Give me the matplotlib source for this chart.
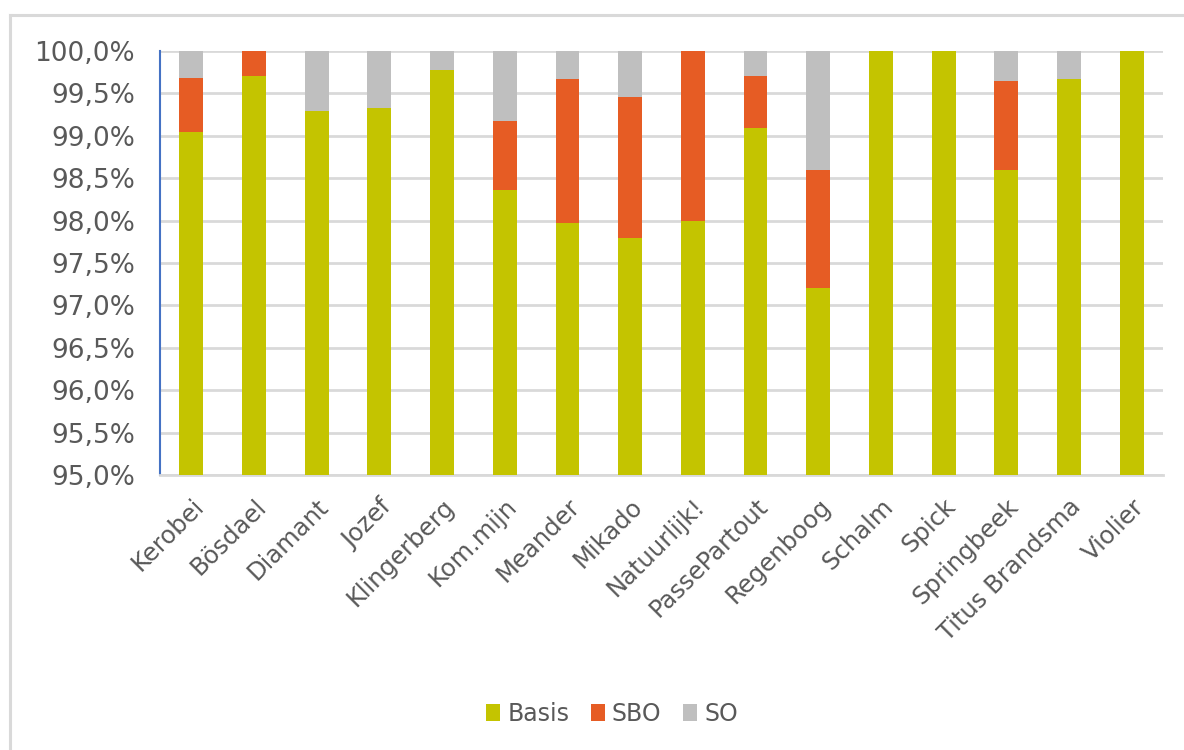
import matplotlib

matplotlib.use("Agg")

import matplotlib.pyplot as plt
from matplotlib.lines import Line2D
from matplotlib.ticker import FuncFormatter

schools = [
    "Kerobei", "Bösdael", "Diamant", "Jozef", "Klingerberg", "Kom.mijn",
    "Meander", "Mikado", "Natuurlijk!", "PassePartout", "Regenboog",
    "Schalm", "Spick", "Springbeek", "Titus Brandsma", "Violier",
]
basis = [99.05, 99.70, 99.29, 99.33, 99.78, 98.36, 97.97, 97.80,
         97.99, 99.09, 97.20, 100.0, 100.0, 98.60, 99.67, 100.0]
sbo = [0.63, 0.30, 0.0, 0.0, 0.0, 0.82, 1.70, 1.66,
       2.01, 0.61, 1.40, 0.0, 0.0, 1.05, 0.0, 0.0]
so = [0.32, 0.0, 0.71, 0.67, 0.22, 0.82, 0.33, 0.54,
      0.0, 0.30, 1.40, 0.0, 0.0, 0.35, 0.33, 0.0]

COLORS = {"Basis": "#c4c400", "SBO": "#e65c24", "SO": "#bfbfbf"}
TEXT = "#595959"

fig = plt.figure(figsize=(11.84, 7.5), dpi=100)
ax = fig.add_axes([160 / 1184, 1 - 475 / 750, 1003 / 1184, 424 / 750])

# chart-area frame: only the top and left edges are inside the picture
frame_x = 9.5 / 1184
frame_y = 1 - 14.5 / 750
fig.add_artist(Line2D([frame_x, 1.0], [frame_y, frame_y], transform=fig.transFigure,
                      color="#d9d9d9", linewidth=2.2))
fig.add_artist(Line2D([frame_x, frame_x], [0.0, frame_y], transform=fig.transFigure,
                      color="#d9d9d9", linewidth=2.2))

x = range(len(schools))
width = 0.38
b1 = ax.bar(x, basis, width, color=COLORS["Basis"], label="Basis", zorder=3)
b2 = ax.bar(x, sbo, width, bottom=basis, color=COLORS["SBO"], label="SBO", zorder=3)
bottom3 = [a + b for a, b in zip(basis, sbo)]
b3 = ax.bar(x, so, width, bottom=bottom3, color=COLORS["SO"], label="SO", zorder=3)

ax.set_ylim(95, 100)
ax.set_xlim(-0.5, len(schools) - 0.5)
ax.set_yticks([95 + 0.5 * i for i in range(11)])
ax.yaxis.set_major_formatter(FuncFormatter(lambda v, _: f"{v:.1f}%".replace(".", ",")))
ax.grid(axis="y", color="#d9d9d9", linewidth=2, zorder=0)
ax.set_axisbelow(True)

for side in ("top", "right"):
    ax.spines[side].set_visible(False)
ax.spines["left"].set_color("#4472c4")
ax.spines["left"].set_linewidth(1.5)
ax.spines["bottom"].set_color("#d9d9d9")
ax.spines["bottom"].set_linewidth(2)

ax.tick_params(axis="y", length=0, labelsize=19, colors=TEXT, pad=18)
ax.set_xticks(list(x))
ax.set_xticklabels(schools, rotation=45, ha="right", rotation_mode="anchor")
ax.tick_params(axis="x", length=0, labelsize=17.5, colors=TEXT, pad=14)

fig.legend(handles=[b1, b2, b3], labels=["Basis", "SBO", "SO"],
           loc="center", bbox_to_anchor=(612 / 1184, 1 - 714 / 750), ncol=3,
           frameon=False, fontsize=17, labelcolor=TEXT, handlelength=0.6,
           handleheight=0.7, handletextpad=0.3, columnspacing=0.9)

fig.savefig("out.png", dpi=100)
